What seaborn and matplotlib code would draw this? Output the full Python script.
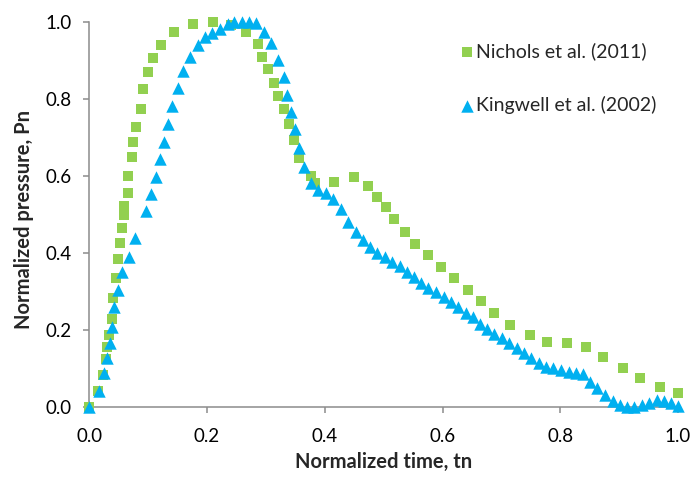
import matplotlib
matplotlib.use("Agg")
import matplotlib.pyplot as plt
import seaborn as sns
from matplotlib.ticker import FormatStrFormatter

# Nichols et al. (2011) normalized pressure waveform
nichols_t = [0.000, 0.014, 0.024, 0.028, 0.030, 0.034, 0.038, 0.041, 0.045, 0.049,
             0.052, 0.056, 0.059, 0.059, 0.065, 0.066, 0.073, 0.075, 0.080, 0.087,
             0.092, 0.100, 0.109, 0.122, 0.144, 0.177, 0.210, 0.240, 0.266, 0.286,
             0.294, 0.304, 0.313, 0.321, 0.331, 0.340, 0.348, 0.357, 0.376, 0.383,
             0.416, 0.449, 0.474, 0.489, 0.504, 0.518, 0.537, 0.554, 0.576, 0.598,
             0.620, 0.644, 0.666, 0.688, 0.715, 0.748, 0.778, 0.811, 0.843, 0.873,
             0.906, 0.936, 0.969, 1.000]
nichols_p = [0.000, 0.040, 0.082, 0.124, 0.154, 0.185, 0.227, 0.282, 0.334, 0.383,
             0.424, 0.463, 0.498, 0.522, 0.554, 0.599, 0.648, 0.687, 0.726, 0.772,
             0.824, 0.869, 0.905, 0.939, 0.972, 0.993, 1.000, 0.992, 0.972, 0.942,
             0.908, 0.876, 0.840, 0.807, 0.773, 0.734, 0.693, 0.647, 0.598, 0.580,
             0.584, 0.596, 0.573, 0.545, 0.518, 0.487, 0.453, 0.422, 0.393, 0.362,
             0.334, 0.303, 0.274, 0.243, 0.211, 0.185, 0.167, 0.165, 0.154, 0.128,
             0.100, 0.074, 0.050, 0.035]

# Kingwell et al. (2002) normalized pressure waveform
kingwell_t = [0.000, 0.016, 0.025, 0.030, 0.035, 0.039, 0.042, 0.048, 0.056, 0.067,
              0.078, 0.096, 0.105, 0.114, 0.120, 0.127, 0.134, 0.141, 0.150, 0.160,
              0.171, 0.184, 0.197, 0.209, 0.222, 0.235, 0.246, 0.259, 0.271, 0.283,
              0.296, 0.308, 0.320, 0.330, 0.336, 0.343, 0.350, 0.357, 0.365, 0.376,
              0.389, 0.402, 0.414, 0.427, 0.440, 0.453, 0.465, 0.477, 0.489, 0.502,
              0.515, 0.527, 0.539, 0.552, 0.564, 0.576, 0.589, 0.602, 0.614, 0.627,
              0.640, 0.651, 0.664, 0.676, 0.688, 0.701, 0.713, 0.726, 0.739, 0.751,
              0.764, 0.776, 0.788, 0.801, 0.814, 0.826, 0.838, 0.851, 0.863, 0.876,
              0.889, 0.901, 0.913, 0.926, 0.939, 0.951, 0.964, 0.976, 0.988, 1.000]
kingwell_p = [0.000, 0.041, 0.087, 0.126, 0.166, 0.208, 0.258, 0.303, 0.351, 0.390,
              0.437, 0.508, 0.552, 0.596, 0.643, 0.688, 0.734, 0.781, 0.827, 0.873,
              0.909, 0.939, 0.959, 0.970, 0.980, 0.993, 0.998, 0.998, 0.998, 0.996,
              0.974, 0.944, 0.900, 0.857, 0.810, 0.766, 0.721, 0.673, 0.622, 0.582,
              0.563, 0.554, 0.539, 0.513, 0.481, 0.455, 0.433, 0.416, 0.400, 0.388,
              0.377, 0.365, 0.351, 0.338, 0.322, 0.309, 0.299, 0.286, 0.273, 0.260,
              0.243, 0.232, 0.215, 0.201, 0.188, 0.178, 0.165, 0.152, 0.139, 0.126,
              0.113, 0.104, 0.100, 0.095, 0.091, 0.088, 0.085, 0.065, 0.048, 0.030,
              0.015, 0.004, 0.000, 0.000, 0.004, 0.009, 0.017, 0.016, 0.009, 0.002]

ticks = [0.0, 0.2, 0.4, 0.6, 0.8, 1.0]

sns.set_style("white")
plt.rcParams["font.family"] = ["Lato", "DejaVu Sans"]

axis_grey = "#8c8c8c"
green = "#92D050"
blue = "#00B0F0"

fig = plt.figure(figsize=(6.91, 4.79), dpi=100)
W, H = 691, 479
x0, x1 = 89.3, 678.0
y0, y1 = 406.7, 21.7
ax = fig.add_axes([x0 / W, (H - y0) / H, (x1 - x0) / W, (y0 - y1) / H])

sns.scatterplot(x=nichols_t, y=nichols_p, marker="s", color=green, s=55,
                linewidth=0, ax=ax, label="Nichols et al. (2011)",
                clip_on=False, zorder=3)
sns.scatterplot(x=kingwell_t, y=kingwell_p, marker="^", color=blue, s=80,
                linewidth=0, ax=ax, label="Kingwell et al. (2002)",
                clip_on=False, zorder=4)

ax.set_xlim(0, 1)
ax.set_ylim(0, 1)
ax.set_xticks(ticks)
ax.set_yticks(ticks)
ax.xaxis.set_major_formatter(FormatStrFormatter("%.1f"))
ax.yaxis.set_major_formatter(FormatStrFormatter("%.1f"))

for side in ("top", "right"):
    ax.spines[side].set_visible(False)
for side in ("left", "bottom"):
    ax.spines[side].set_color(axis_grey)
    ax.spines[side].set_linewidth(1.1)

ax.tick_params(axis="both", which="major", direction="out", length=4,
               width=1.1, color=axis_grey, labelsize=13.5,
               labelcolor="black")
ax.tick_params(axis="x", bottom=True, pad=11)
ax.tick_params(axis="y", left=True, pad=9)

ax.set_xlabel("Normalized time, tn", fontsize=14.5, fontweight="bold")
ax.set_ylabel("Normalized pressure, Pn", fontsize=14.5, fontweight="bold")
# axis titles placed in axes coordinates
ax.xaxis.set_label_coords(0.5, (y0 - 452) / (y0 - y1))
ax.yaxis.set_label_coords((34 - x0) / (x1 - x0), 0.485)

ax.legend(loc="upper left", bbox_to_anchor=(457 / W, 1 - 42 / H),
          bbox_transform=fig.transFigure, frameon=False, fontsize=14,
          labelspacing=1.85, handletextpad=0.0, handlelength=1.0,
          borderaxespad=0, borderpad=0)

fig.savefig("out.png", dpi=100)
